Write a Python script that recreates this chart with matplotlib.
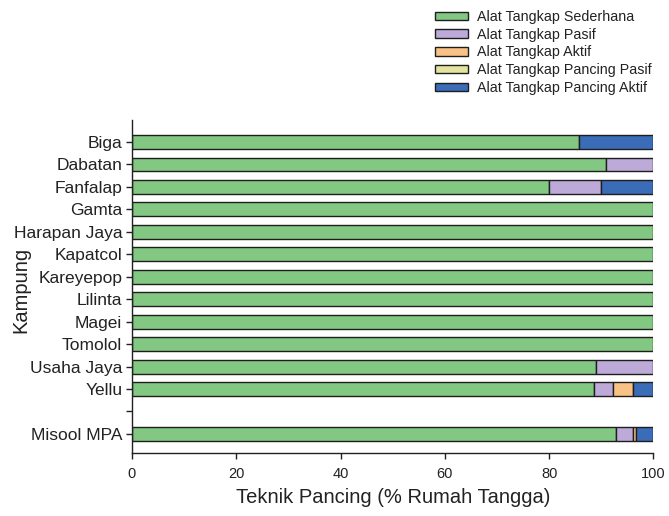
import matplotlib
matplotlib.use("Agg")
import matplotlib.pyplot as plt
import numpy as np

plt.rcParams['font.family'] = ['Liberation Sans', 'DejaVu Sans']

kampung = ["Biga", "Dabatan", "Fanfalap", "Gamta", "Harapan Jaya", "Kapatcol",
           "Kareyepop", "Lilinta", "Magei", "Tomolol", "Usaha Jaya", "Yellu",
           "", "Misool MPA"]

# percentage of households per fishing technique (blank row is a spacer)
sederhana      = [85.7, 90.9, 80.0, 100, 100, 100, 100, 100, 100, 100, 88.9, 88.5, 0, 92.9]
pasif          = [0.0,  9.1,  10.0, 0,   0,   0,   0,   0,   0,   0,   11.1, 3.8,  0, 3.1]
aktif          = [0.0,  0.0,  0.0,  0,   0,   0,   0,   0,   0,   0,   0.0,  3.8,  0, 0.7]
pancing_pasif  = [0.0,  0.0,  0.0,  0,   0,   0,   0,   0,   0,   0,   0.0,  0.0,  0, 0.0]
pancing_aktif  = [14.3, 0.0,  10.0, 0,   0,   0,   0,   0,   0,   0,   0.0,  3.9,  0, 3.3]

series = [
    ("Alat Tangkap Sederhana", sederhana, "#82c882"),
    ("Alat Tangkap Pasif", pasif, "#beaad8"),
    ("Alat Tangkap Aktif", aktif, "#f8c286"),
    ("Alat Tangkap Pancing Pasif", pancing_pasif, "#e4e49e"),
    ("Alat Tangkap Pancing Aktif", pancing_aktif, "#3a6cb8"),
]

fig = plt.figure(figsize=(6.69, 5.16), dpi=100)
ax = fig.add_axes([0.1973, 0.1221, 0.7795, 0.6453])

y = np.arange(len(kampung))
left = np.zeros(len(kampung))
handles = []
for name, vals, color in series:
    vals = np.array(vals, dtype=float)
    mask = vals > 0
    ax.barh(y[mask], vals[mask], left=left[mask], height=0.62, color=color,
            edgecolor="#1e1e1e", linewidth=1.0)
    handles.append(plt.Rectangle((0, 0), 1, 1, facecolor=color,
                                 edgecolor="#1e1e1e", linewidth=1.0))
    left += vals

ax.set_xlim(0, 100)
ax.set_ylim(13.85, -0.98)
ax.set_yticks(y)
ax.set_yticklabels(kampung, fontsize=12.5, color="#222222")
ax.set_xticks([0, 20, 40, 60, 80, 100])
ax.tick_params(axis="x", labelsize=10.5, length=4, width=1, colors="#222222", pad=6)
ax.tick_params(axis="y", length=4, width=1, colors="#222222", pad=3)
for s in ["top", "right"]:
    ax.spines[s].set_visible(False)
for s in ["left", "bottom"]:
    ax.spines[s].set_linewidth(1.0)
    ax.spines[s].set_color("#222222")

ax.set_xlabel("Teknik Pancing (% Rumah Tangga)", fontsize=14.5, color="#222222", labelpad=5)
ax.set_ylabel("Kampung", fontsize=14.5, color="#222222")
ax.yaxis.set_label_coords(-0.195, 0.49)

fig.legend(handles, [s[0] for s in series], loc="upper left",
           bbox_to_anchor=(0.650, 0.9806), frameon=False, fontsize=10.3,
           borderpad=0, borderaxespad=0, labelspacing=0.26, handlelength=2.3,
           handleheight=0.55, handletextpad=0.62, labelcolor="#222222")

fig.savefig("out.png", dpi=100)
